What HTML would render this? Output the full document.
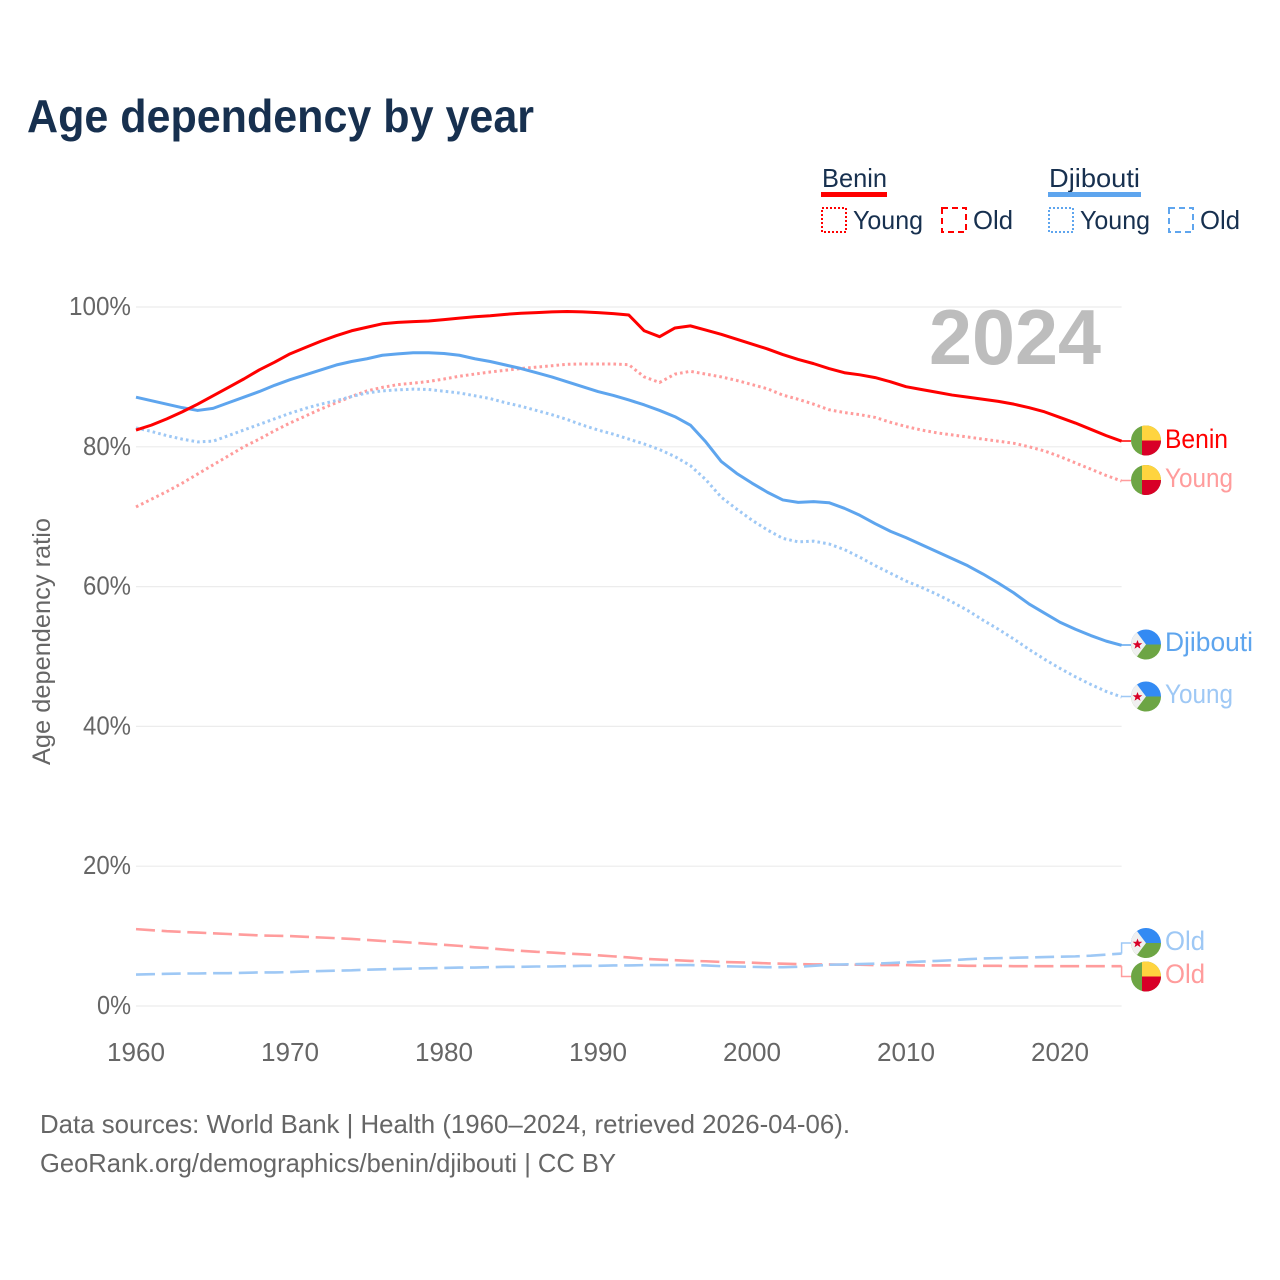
<!DOCTYPE html>
<html lang="en">
<head>
<meta charset="utf-8">
<title>Age dependency by year</title>
<style>
html,body{margin:0;padding:0;background:#fff;}
svg{display:block;font-family:"Liberation Sans",sans-serif;}
.tick{font-size:25.5px;fill:#666;}
.foot{font-size:26px;fill:#666;}
.leg{font-size:26px;fill:#17304f;}
.lab{font-size:26.5px;}
</style>
</head>
<body>
<svg id="chart" width="1280" height="1280" viewBox="0 0 1280 1280" xmlns="http://www.w3.org/2000/svg">
  <defs>
    <clipPath id="flag-clip"><circle cx="0" cy="0" r="15"/></clipPath>
    <g id="flag-benin" clip-path="url(#flag-clip)">
      <rect x="-15" y="-15" width="30" height="30" fill="#6da544"/>
      <rect x="-4" y="-15" width="19" height="15" fill="#ffd43f"/>
      <rect x="-4" y="0" width="19" height="15" fill="#d80027"/>
    </g>
    <g id="flag-djibouti" clip-path="url(#flag-clip)">
      <rect x="-15" y="-15" width="30" height="15" fill="#338af3"/>
      <rect x="-15" y="0" width="30" height="15" fill="#6da544"/>
      <polygon points="-15,-20 0,0 -15,20" fill="#f0f0f0"/>
      <polygon points="-8.5,-4.5 -7.2,-1.2 -3.7,-1.2 -6.5,1 -5.5,4.3 -8.5,2.3 -11.5,4.3 -10.5,1 -13.3,-1.2 -9.8,-1.2" fill="#d80027"/>
    </g>
  </defs>

  <rect width="1280" height="1280" fill="#fff"/>
  <text x="27" y="132" font-size="46" font-weight="700" fill="#17304f" textLength="507" lengthAdjust="spacingAndGlyphs">Age dependency by year</text>

  <g>
    <text class="leg" x="822" y="187" textLength="65" lengthAdjust="spacingAndGlyphs">Benin</text>
    <rect x="821" y="192" width="66" height="5" fill="#ff0000"/>
    <rect x="822" y="208" width="24" height="24" fill="none" stroke="#ff0000" stroke-width="2" stroke-dasharray="2 2"/>
    <text class="leg" x="853" y="229" textLength="70" lengthAdjust="spacingAndGlyphs">Young</text>
    <rect x="942" y="208" width="24" height="24" fill="none" stroke="#ff0000" stroke-width="2" stroke-dasharray="6 4"/>
    <text class="leg" x="973" y="229" textLength="40" lengthAdjust="spacingAndGlyphs">Old</text>

    <text class="leg" x="1049" y="187" textLength="91" lengthAdjust="spacingAndGlyphs">Djibouti</text>
    <rect x="1048" y="192" width="93" height="5" fill="#5ea5ee"/>
    <rect x="1049" y="208" width="24" height="24" fill="none" stroke="#5ea5ee" stroke-width="2" stroke-dasharray="2 2"/>
    <text class="leg" x="1080" y="229" textLength="70" lengthAdjust="spacingAndGlyphs">Young</text>
    <rect x="1169" y="208" width="24" height="24" fill="none" stroke="#5ea5ee" stroke-width="2" stroke-dasharray="6 4"/>
    <text class="leg" x="1200" y="229" textLength="40" lengthAdjust="spacingAndGlyphs">Old</text>
  </g>

  <g id="grid"></g>
  <g id="yticks"></g>
  <g id="xticks"></g>
  <text transform="translate(50,765) rotate(-90)" font-size="25" fill="#666" textLength="247" lengthAdjust="spacingAndGlyphs">Age dependency ratio</text>

  <text x="929" y="364" font-size="78" font-weight="700" fill="#bdbdbd" textLength="172" lengthAdjust="spacingAndGlyphs">2024</text>

  <g id="series"></g>
  <g id="leaders"></g>

  <g>
    <use href="#flag-benin" x="1146" y="440.5"/>
    <text class="lab" x="1165" y="448" fill="#ff0000" textLength="63" lengthAdjust="spacingAndGlyphs">Benin</text>
    <use href="#flag-benin" x="1146" y="480"/>
    <text class="lab" x="1165" y="487" fill="#ff9c9c" textLength="68" lengthAdjust="spacingAndGlyphs">Young</text>
    <use href="#flag-djibouti" x="1146" y="644.5"/>
    <text class="lab" x="1165" y="651" fill="#5ea5ee" textLength="88" lengthAdjust="spacingAndGlyphs">Djibouti</text>
    <use href="#flag-djibouti" x="1146" y="696.5"/>
    <text class="lab" x="1165" y="703" fill="#9ec8f5" textLength="68" lengthAdjust="spacingAndGlyphs">Young</text>
    <use href="#flag-djibouti" x="1146" y="943"/>
    <text class="lab" x="1165" y="950" fill="#9ec8f5" textLength="40" lengthAdjust="spacingAndGlyphs">Old</text>
    <use href="#flag-benin" x="1146" y="976.5"/>
    <text class="lab" x="1165" y="983" fill="#ff9c9c" textLength="40" lengthAdjust="spacingAndGlyphs">Old</text>
  </g>

  <text class="foot" x="40" y="1133" textLength="810" lengthAdjust="spacingAndGlyphs">Data sources: World Bank | Health (1960–2024, retrieved 2026-04-06).</text>
  <text class="foot" x="40" y="1172" textLength="576" lengthAdjust="spacingAndGlyphs">GeoRank.org/demographics/benin/djibouti | CC BY</text>

<script>
var startYear = 1960;
var xTickYears = [1960, 1970, 1980, 1990, 2000, 2010, 2020];
var yTickValues = [0, 20, 40, 60, 80, 100];

var beninTotal = [
  82.4,83.1,84.0,85.0,86.1,87.3,88.5,89.7,91.0,92.1,
  93.3,94.2,95.1,95.9,96.6,97.1,97.6,97.8,97.9,98.0,
  98.2,98.4,98.6,98.75,98.95,99.1,99.2,99.3,99.35,99.3,
  99.2,99.05,98.85,96.6,95.75,97.0,97.3,96.7,96.1,95.4,
  94.7,94.0,93.2,92.5,91.9,91.2,90.6,90.3,89.9,89.3,
  88.6,88.2,87.8,87.4,87.1,86.8,86.5,86.1,85.6,85.0,
  84.2,83.4,82.5,81.6,80.8
];
var beninYoung = [
  71.4,72.5,73.6,74.8,76.1,77.4,78.7,80.0,81.1,82.3,
  83.4,84.4,85.4,86.3,87.2,88.0,88.5,88.9,89.1,89.35,
  89.7,90.1,90.4,90.7,90.95,91.2,91.4,91.6,91.8,91.85,
  91.85,91.85,91.75,90.0,89.2,90.4,90.8,90.4,90.0,89.5,
  88.9,88.3,87.4,86.8,86.1,85.3,84.9,84.6,84.2,83.5,
  82.9,82.4,82.0,81.7,81.4,81.1,80.8,80.5,80.0,79.4,
  78.6,77.7,76.8,75.9,75.1
];
var beninOld = [
  11.0,10.85,10.7,10.6,10.5,10.4,10.3,10.2,10.1,10.05,
  10.0,9.9,9.8,9.7,9.6,9.45,9.3,9.2,9.05,8.9,
  8.75,8.6,8.4,8.25,8.05,7.9,7.75,7.65,7.5,7.4,
  7.25,7.1,6.95,6.75,6.65,6.55,6.45,6.4,6.3,6.25,
  6.2,6.1,6.05,6.0,5.95,5.95,5.9,5.9,5.85,5.85,
  5.85,5.8,5.8,5.8,5.75,5.75,5.75,5.7,5.7,5.7,
  5.7,5.7,5.7,5.7,5.7
];
var djiboutiTotal = [
  87.1,86.6,86.1,85.6,85.2,85.5,86.3,87.1,87.9,88.8,
  89.6,90.3,91.0,91.7,92.2,92.6,93.1,93.3,93.45,93.45,
  93.35,93.1,92.6,92.2,91.7,91.2,90.6,90.0,89.3,88.6,
  87.9,87.35,86.7,86.0,85.2,84.3,83.1,80.7,77.9,76.2,
  74.8,73.5,72.4,72.05,72.15,72.0,71.2,70.2,69.0,67.9,
  67.0,66.0,65.0,64.0,63.0,61.8,60.5,59.1,57.5,56.2,
  54.9,53.9,53.0,52.2,51.6
];
var djiboutiYoung = [
  82.7,82.2,81.6,81.1,80.7,80.8,81.6,82.4,83.2,84.0,
  84.8,85.5,86.1,86.6,87.2,87.7,88.0,88.15,88.25,88.2,
  87.95,87.7,87.3,86.9,86.3,85.8,85.2,84.6,83.9,83.1,
  82.4,81.8,81.1,80.4,79.6,78.6,77.3,75.3,72.8,71.1,
  69.5,68.1,66.9,66.4,66.5,66.1,65.3,64.2,63.0,61.9,
  60.8,59.9,58.9,57.8,56.6,55.2,53.9,52.5,51.0,49.6,
  48.3,47.1,46.0,45.0,44.2
];
var djiboutiOld = [
  4.5,4.55,4.6,4.65,4.65,4.7,4.7,4.75,4.8,4.8,
  4.85,4.95,5.0,5.05,5.1,5.2,5.25,5.3,5.35,5.4,
  5.45,5.5,5.5,5.55,5.6,5.6,5.65,5.65,5.7,5.75,
  5.75,5.8,5.8,5.85,5.85,5.85,5.85,5.8,5.7,5.65,
  5.6,5.55,5.55,5.6,5.75,5.9,5.95,6.0,6.05,6.15,
  6.25,6.35,6.45,6.55,6.7,6.8,6.85,6.9,6.95,7.0,
  7.05,7.1,7.2,7.35,7.5
];

var NS = 'http://www.w3.org/2000/svg';
function xScale(year) { return 136 + (year - 1960) * 15.4; }
function yScale(v) { return 1006 - v * 6.99; }
function make(tag, parent) {
  var el = document.createElementNS(NS, tag);
  document.getElementById(parent).appendChild(el);
  return el;
}

yTickValues.forEach(function (v) {
  var g = make('line', 'grid');
  
  
  g.setAttribute('x1', xScale(1960));
  g.setAttribute('x2', xScale(2024));
  g.setAttribute('y1', yScale(v));
  g.setAttribute('y2', yScale(v));
  g.setAttribute('stroke', '#ececec');
  g.setAttribute('stroke-width', '1.2');

  var label = v + '%';
  var t = make('text', 'yticks');
  
  
  t.setAttribute('class', 'tick');
  t.setAttribute('x', 131 - (14 * label.length + 6));
  t.setAttribute('y', yScale(v) + 8);
  t.setAttribute('textLength', 14 * label.length + 6);
  t.setAttribute('lengthAdjust', 'spacingAndGlyphs');
  t.textContent = label;
});

xTickYears.forEach(function (yr) {
  var t = make('text', 'xticks');
  
  
  t.setAttribute('class', 'tick');
  t.setAttribute('x', xScale(yr) - 29);
  t.setAttribute('y', 1061);
  t.setAttribute('textLength', 58);
  t.setAttribute('lengthAdjust', 'spacingAndGlyphs');
  t.textContent = yr;
});

function drawSeries(values, color, width, dash, name) {
  var pts = values.map(function (v, i) {
    return xScale(startYear + i).toFixed(2) + ',' + yScale(v).toFixed(2);
  }).join(' ');
  var p = make('polyline', 'series');
  
  
  p.setAttribute('points', pts);
  p.setAttribute('fill', 'none');
  p.setAttribute('stroke', color);
  p.setAttribute('stroke-width', width);
  p.setAttribute('stroke-linejoin', 'round');
  if (dash) p.setAttribute('stroke-dasharray', dash);
}

function drawLeader(values, flagY, color, name) {
  var yEnd = yScale(values[values.length - 1]);
  var x0 = xScale(2024);
  var l = make('polyline', 'leaders');
  
  
  l.setAttribute('points', x0 + ',' + yEnd + ' ' + x0 + ',' + flagY + ' 1131,' + flagY);
  l.setAttribute('fill', 'none');
  l.setAttribute('stroke', color);
  l.setAttribute('stroke-width', '1.5');
}

drawSeries(beninOld, '#ff9c9c', 2.6, '19 6.7', 'benin-old-line');
drawSeries(djiboutiOld, '#9ec8f5', 2.6, '19 6.7', 'djibouti-old-line');
drawSeries(beninYoung, '#ff9c9c', 3, '2.6 3.1', 'benin-young-line');
drawSeries(djiboutiYoung, '#9ec8f5', 3, '2.6 3.1', 'djibouti-young-line');
drawSeries(djiboutiTotal, '#5ea5ee', 3, null, 'djibouti-total-line');
drawSeries(beninTotal, '#ff0000', 3, null, 'benin-total-line');

drawLeader(beninTotal, 441, '#ff0000', 'leader-benin');
drawLeader(beninYoung, 480.5, '#ff9c9c', 'leader-benin-young');
drawLeader(djiboutiTotal, 645, '#5ea5ee', 'leader-djibouti');
drawLeader(djiboutiYoung, 696.5, '#9ec8f5', 'leader-djibouti-young');
drawLeader(djiboutiOld, 943, '#9ec8f5', 'leader-djibouti-old');
drawLeader(beninOld, 976.5, '#ff9c9c', 'leader-benin-old');
</script>
</svg>
</body>
</html>
